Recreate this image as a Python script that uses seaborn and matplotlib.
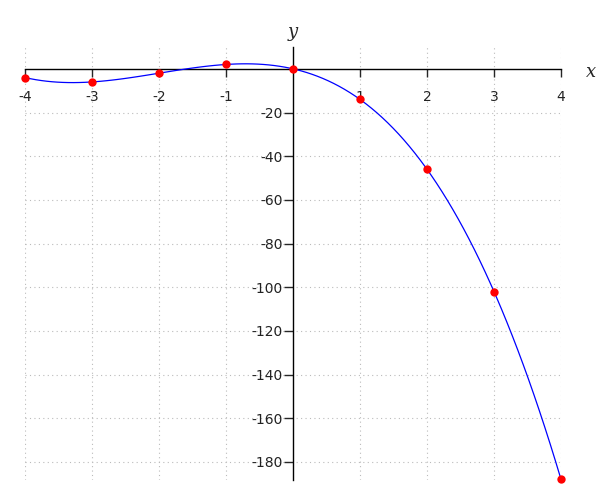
import numpy as np
import pandas as pd
import seaborn as sns
import matplotlib.pyplot as plt

# points
x_vals = [-4, -3, -2, -1, 0, 1, 2, 3, 4]
y_vals = [-4, -6, -2, 2, 0, -14, -46, -102, -188]
x_ticks = [-4, -3, -2, -1, 1, 2, 3, 4]
y_ticks = [-20, -40, -60, -80, -100, -120, -140, -160, -180]

df = pd.DataFrame({"x": x_vals, "y": y_vals})

sns.set_style("white")
plt.rcParams["axes.unicode_minus"] = False

fig = plt.figure(figsize=(6, 5), dpi=100)
ax = fig.add_axes([25 / 600, 1 - 480 / 500, 536 / 600, 433 / 500])

# cubic through the points, like the smooth curve in the reference
sns.regplot(
    data=df, x="x", y="y", order=3, ci=None, ax=ax,
    scatter_kws={"color": "red", "s": 36, "alpha": 1, "zorder": 4,
                 "clip_on": False, "linewidths": 0},
    line_kws={"color": "blue", "lw": 0.9, "zorder": 3},
)

ax.set_xlim(-4, 4)
ax.set_ylim(-188.3, 10)
ax.set_xticks(x_ticks)
ax.set_yticks(y_ticks)
ax.set_xticklabels([str(t) for t in x_ticks])
ax.set_yticklabels([str(t) for t in y_ticks])

ax.spines["left"].set_position(("data", 0))
ax.spines["bottom"].set_position(("data", 0))
ax.spines["top"].set_visible(False)
ax.spines["right"].set_visible(False)
for s in ("left", "bottom"):
    ax.spines[s].set_color("black")
    ax.spines[s].set_linewidth(1)

ax.tick_params(axis="x", direction="out", length=6, width=1, pad=9,
               labelsize=10, labelcolor="#222222", bottom=True)
ax.tick_params(axis="y", direction="out", length=6.5, width=1, pad=1,
               labelsize=10, labelcolor="#222222", left=True)

ax.grid(True, color="#bbbbbb", linestyle=(0, (1, 3)), linewidth=0.8)
ax.set_axisbelow(True)

ax.set_xlabel("")
ax.set_ylabel("")
ax.text(4.45, -1.5, "x", fontsize=13, style="italic", family="DejaVu Serif",
        ha="center", va="center")
ax.text(0, 17, "y", fontsize=13, style="italic", family="DejaVu Serif",
        ha="center", va="center", clip_on=False)

fig.savefig("out.png", dpi=100)
